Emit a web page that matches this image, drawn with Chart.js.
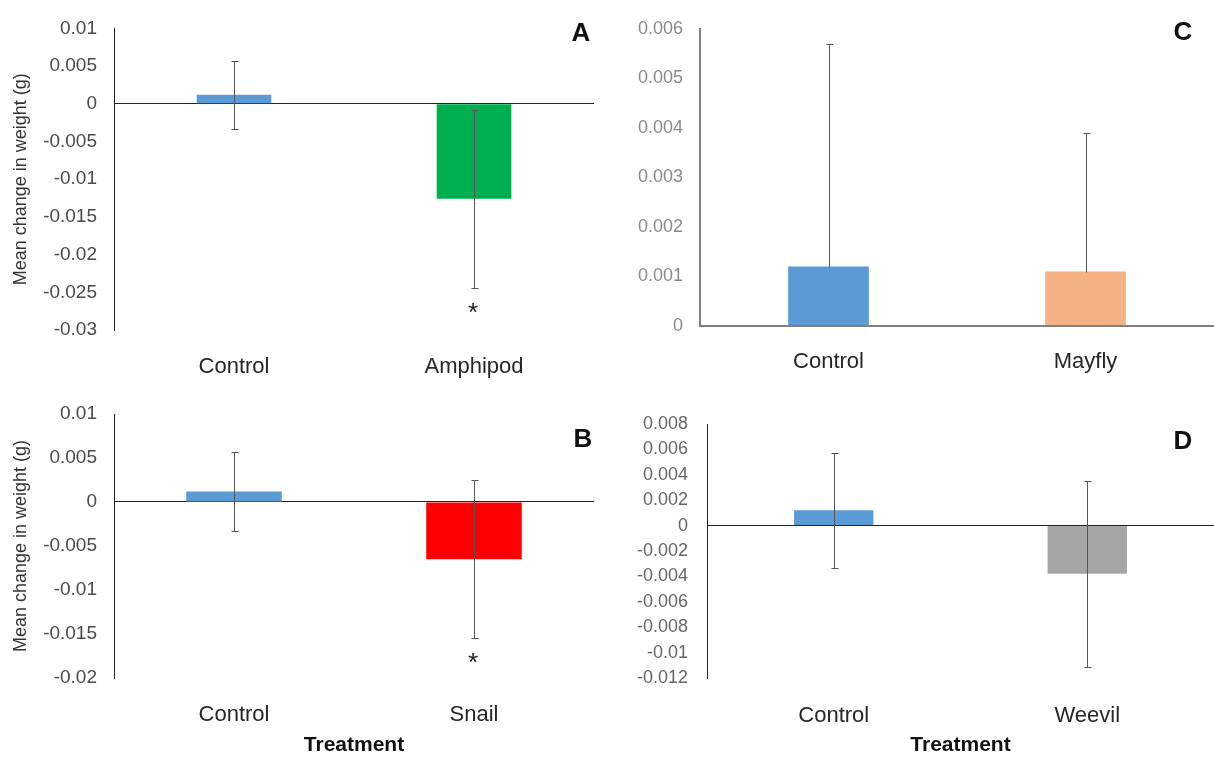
<!DOCTYPE html>
<html><head><meta charset="utf-8">
<script src="https://cdn.jsdelivr.net/npm/chart.js@4"></script>
<style>
html,body{margin:0;padding:0;background:#fff;}
body{width:1214px;height:763px;position:relative;overflow:hidden;}
canvas{position:absolute;}
</style></head><body>
<canvas id="cA" width="600" height="380" style="left:0;top:0"></canvas>
<canvas id="cB" width="600" height="383" style="left:0;top:380px"></canvas>
<canvas id="cC" width="614" height="380" style="left:600px;top:0"></canvas>
<canvas id="cD" width="614" height="383" style="left:600px;top:380px"></canvas>
<script>
// ---- data ----
const categoriesA = ['Control', 'Amphipod'];
const meansA = [0.0012, -0.0126];
const errorsA = [0.0045, 0.0118];
const yTicksA = [0.01, 0.005, 0, -0.005, -0.01, -0.015, -0.02, -0.025, -0.03];

const categoriesB = ['Control', 'Snail'];
const meansB = [0.0012, -0.0065];
const errorsB = [0.0045, 0.0090];
const yTicksB = [0.01, 0.005, 0, -0.005, -0.01, -0.015, -0.02];

const categoriesC = ['Control', 'Mayfly'];
const meansC = [0.0012, 0.0011];
const errorsC = [0.0045, 0.0028];
const yTicksC = [0.006, 0.005, 0.004, 0.003, 0.002, 0.001, 0];

const categoriesD = ['Control', 'Weevil'];
const meansD = [0.0012, -0.0038];
const errorsD = [0.0045, 0.0073];
const yTicksD = [0.008, 0.006, 0.004, 0.002, 0, -0.002, -0.004, -0.006, -0.008, -0.01, -0.012];

const significantA = [false, true];
const significantB = [false, true];
const significantC = [false, false];
const significantD = [false, false];

const yTitle = 'Mean change in weight (g)';
const xTitle = 'Treatment';

// ---- styles ----
const FONT = '"Liberation Sans", Arial, sans-serif';
const colorsA = ['#5B9BD5', '#00B050'];
const colorsB = ['#5B9BD5', '#FF0000'];
const colorsC = ['#5B9BD5', '#F4B183'];
const colorsD = ['#5B9BD5', '#A5A5A5'];

const errorBarPlugin = {
  id: 'errbars',
  afterDatasetsDraw(chart, args, opts) {
    const ctx = chart.ctx, y = chart.scales.y;
    const meta = chart.getDatasetMeta(0);
    ctx.save();
    ctx.strokeStyle = opts.color;
    ctx.lineWidth = 1;
    meta.data.forEach((bar, i) => {
      const m = opts.means[i], e = opts.errors[i];
      const x = Math.round(bar.x) + 0.5;
      const top = Math.round(y.getPixelForValue(m + e)) + 0.5;
      const bot = Math.round(y.getPixelForValue(opts.plusOnly ? m : m - e)) + 0.5;
      ctx.beginPath();
      ctx.moveTo(x, top); ctx.lineTo(x, bot);
      ctx.moveTo(x - 3, top); ctx.lineTo(x + 4, top);
      if (!opts.plusOnly) { ctx.moveTo(x - 3, bot); ctx.lineTo(x + 4, bot); }
      ctx.stroke();
      if (opts.sig && opts.sig[i]) {
        ctx.fillStyle = '#222';
        ctx.font = '26px ' + FONT;
        ctx.textAlign = 'center';
        ctx.textBaseline = 'alphabetic';
        ctx.fillText('*', bar.x - 1, y.getPixelForValue(m - e) + 33);
      }
    });
    ctx.restore();
  }
};

const letterPlugin = {
  id: 'letter',
  afterDraw(chart, args, opts) {
    const ctx = chart.ctx;
    ctx.save();
    ctx.fillStyle = '#111';
    ctx.font = 'bold 26px ' + FONT;
    ctx.textAlign = 'center';
    ctx.textBaseline = 'middle';
    ctx.fillText(opts.text, opts.x, opts.y);
    ctx.restore();
  }
};

function buildPanel(id, cats, means, errs, colors, yTicks, sig, L) {
  return new Chart(document.getElementById(id), {
    type: 'bar',
    data: {
      labels: cats,
      datasets: [{ data: means, backgroundColor: colors, borderWidth: 0,
                   barPercentage: L.barPct, categoryPercentage: 1 }]
    },
    options: {
      responsive: false, animation: false, devicePixelRatio: 1,
      layout: { padding: { top: L.top, right: L.right, left: 0, bottom: 0 } },
      plugins: {
        legend: { display: false }, tooltip: { enabled: false },
        errbars: { means: means, errors: errs, color: '#555', plusOnly: L.plusOnly, sig: sig },
        letter: { text: L.letter, x: L.lx, y: L.ly }
      },
      scales: {
        x: {
          grid: { display: false }, border: { display: false },
          ticks: { font: { size: 22, family: FONT }, color: '#262626', padding: L.xPad, maxRotation: 0, autoSkip: false },
          title: { display: L.xTitle, text: xTitle, font: { size: 21, weight: 'bold', family: FONT }, color: '#111', padding: { top: 0, bottom: 5 } },
          afterFit(s) { s.height = L.xH; }
        },
        y: {
          min: yTicks[yTicks.length - 1], max: yTicks[0],
          afterBuildTicks(s) { s.ticks = yTicks.map(v => ({ value: v })); },
          ticks: { callback: v => String(v), font: { size: L.tickSize, family: FONT }, color: L.tickColor, padding: L.yPad },
          grid: { drawTicks: false, lineWidth: L.axisW,
                  color: c => (c.tick && c.tick.value === 0) ? L.axisColor : 'rgba(0,0,0,0)' },
          border: { display: true, color: L.axisColor, width: L.axisW },
          title: { display: L.yTitle, text: yTitle, font: { size: 18, family: FONT }, color: '#333', padding: { top: 10, bottom: 0 } },
          afterFit(s) { s.width = L.yW; }
        }
      }
    },
    plugins: [errorBarPlugin, letterPlugin]
  });
}

buildPanel('cA', categoriesA, meansA, errorsA, colorsA, yTicksA, significantA,
  { top: 18, right: 6, xH: 50, yW: 114, barPct: 0.311, xPad: 16, yPad: 17, tickSize: 19,
    tickColor: '#4a4a4a', axisColor: '#222', axisW: 1, plusOnly: false, letter: 'A', lx: 581, ly: 34,
    xTitle: false, yTitle: true });
buildPanel('cB', categoriesB, meansB, errorsB, colorsB, yTicksB, significantB,
  { top: 34, right: 6, xH: 85, yW: 114, barPct: 0.398, xPad: 16, yPad: 17, tickSize: 19,
    tickColor: '#4a4a4a', axisColor: '#222', axisW: 1, plusOnly: false, letter: 'B', lx: 583, ly: 60,
    xTitle: true, yTitle: true });
buildPanel('cC', categoriesC, meansC, errorsC, colorsC, yTicksC, significantC,
  { top: 29, right: 0, xH: 54, yW: 100, barPct: 0.314, xPad: 15, yPad: 17, tickSize: 18,
    tickColor: '#8a8a8a', axisColor: '#808080', axisW: 2, plusOnly: true, letter: 'C', lx: 583, ly: 33,
    xTitle: false, yTitle: false });
buildPanel('cD', categoriesD, meansD, errorsD, colorsD, yTicksD, significantD,
  { top: 44, right: 0, xH: 85, yW: 107, barPct: 0.313, xPad: 17, yPad: 19, tickSize: 18,
    tickColor: '#666', axisColor: '#222', axisW: 1, plusOnly: false, letter: 'D', lx: 583, ly: 62,
    xTitle: true, yTitle: false });
</script>
</body></html>
